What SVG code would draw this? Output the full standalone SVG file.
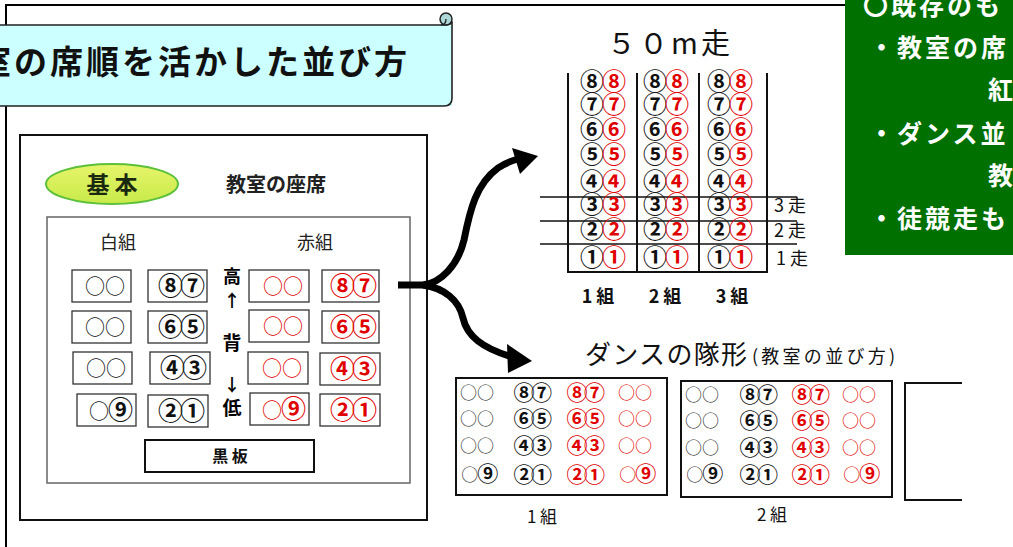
<svg xmlns="http://www.w3.org/2000/svg" width="1013" height="547" viewBox="0 0 1013 547">
<defs>
<style>
text{font-family:"Noto Sans CJK JP","Liberation Sans",sans-serif;}
.b{font-weight:bold;}
.red{fill:#e00000;}
.blk{fill:#111;}
.seat{fill:#fff;stroke:#333;stroke-width:1.3;}
.st{font-size:20px;text-anchor:middle;}
.num{font-size:25px;text-anchor:middle;font-weight:bold;letter-spacing:-3px;}
.rn{font-size:24px;font-weight:bold;letter-spacing:-2px;}
.dn{font-size:17px;text-anchor:middle;}
.dc{font-size:21px;font-weight:bold;letter-spacing:-3.5px;}
.grid{stroke:#111;stroke-width:2;fill:none;}
.conn{stroke:#000;stroke-width:7;fill:none;stroke-linecap:butt;}
.gt{fill:#fff;font-size:25px;font-weight:bold;letter-spacing:3px;}
</style>
<linearGradient id="ell" x1="0" y1="0" x2="0" y2="1">
<stop offset="0" stop-color="#e6f56a"/>
<stop offset="1" stop-color="#c8ea4a"/>
</linearGradient>
</defs>
<rect x="0" y="0" width="1013" height="547" fill="#fff"/>

<!-- outer frame -->
<g id="frame">
<path d="M6,547 L6,5 L846,5" fill="none" stroke="#000" stroke-width="2"/>
</g>

<!-- title banner -->
<g id="title">
<rect x="-2" y="25" width="454" height="81" fill="#ccffff" stroke="none"/>
<path d="M-2,25 L446,25 M452,22 L452,98 Q452,106 444,106 L-2,106" fill="none" stroke="#222" stroke-width="1.6"/>
<circle cx="446" cy="19" r="6" fill="#aed8d8" stroke="#222" stroke-width="1.5"/>
<path d="M446,25 Q452,25 452,21 M446,19 Q446,25 441,25" fill="none" stroke="#222" stroke-width="1.3"/>
<text x="-22" y="74" class="b" font-size="33" letter-spacing="3" fill="#111">室の席順を活かした並び方</text>
</g>

<!-- classroom seat node -->
<g id="classroom">
<rect x="20" y="135" width="407" height="385" fill="#fff" stroke="#111" stroke-width="2"/>
<ellipse cx="112" cy="184" rx="66" ry="20" fill="url(#ell)" stroke="#5cc03a" stroke-width="2"/>
<text x="112" y="193" class="b" font-size="23" text-anchor="middle" fill="#1a2a10">基 本</text>
<text x="276" y="192" class="b" font-size="20" text-anchor="middle" fill="#222">教室の座席</text>
<rect x="47" y="217" width="363" height="266" fill="none" stroke="#666" stroke-width="1.5"/>
<text x="118" y="249" font-size="18" text-anchor="middle" fill="#222">白組</text>
<text x="315" y="249" font-size="18" text-anchor="middle" fill="#222">赤組</text>

<rect class="seat" x="72" y="270" width="59" height="32"/>
<rect class="seat" x="148" y="270" width="59" height="32"/>
<rect class="seat" x="249" y="270" width="60" height="32"/>
<rect class="seat" x="322" y="270" width="57" height="32"/>
<rect class="seat" x="72" y="311" width="59" height="32"/>
<rect class="seat" x="148" y="311" width="59" height="32"/>
<rect class="seat" x="249" y="310" width="60" height="32"/>
<rect class="seat" x="322" y="311" width="57" height="32"/>
<rect class="seat" x="73" y="352" width="59" height="32"/>
<rect class="seat" x="150" y="352" width="60" height="32"/>
<rect class="seat" x="248" y="352" width="60" height="32"/>
<rect class="seat" x="320" y="353" width="60" height="32"/>
<rect class="seat" x="77" y="394" width="59" height="32"/>
<rect class="seat" x="148" y="395" width="60" height="32"/>
<rect class="seat" x="250" y="393" width="59" height="32"/>
<rect class="seat" x="320" y="394" width="60" height="32"/>

<text class="st blk" x="105" y="294">○○</text>
<text class="num blk" x="180" y="295">⑧⑦</text>
<text class="st red" x="283" y="294">○○</text>
<text class="num red" x="352" y="295">⑧⑦</text>
<text class="st blk" x="105" y="335">○○</text>
<text class="num blk" x="180" y="336">⑥⑤</text>
<text class="st red" x="283" y="334">○○</text>
<text class="num red" x="352" y="336">⑥⑤</text>
<text class="st blk" x="106" y="376">○○</text>
<text class="num blk" x="182" y="377">④③</text>
<text class="st red" x="282" y="376">○○</text>
<text class="num red" x="352" y="378">④③</text>
<text class="blk" x="89" y="419" font-size="20">○<tspan font-size="25" font-weight="bold" dx="-1">⑨</tspan></text>
<text class="num blk" x="180" y="420">②①</text>
<text class="red" x="262" y="418" font-size="20">○<tspan font-size="25" font-weight="bold" dx="-1">⑨</tspan></text>
<text class="num red" x="352" y="419">②①</text>

<text x="232" y="283" class="b" font-size="18" text-anchor="middle" fill="#000">高</text>
<text x="232" y="307" class="b" font-size="17" text-anchor="middle" fill="#000">↑</text>
<text x="232" y="350" class="b" font-size="19" text-anchor="middle" fill="#000">背</text>
<text x="232" y="391" class="b" font-size="17" text-anchor="middle" fill="#000">↓</text>
<text x="232" y="415" class="b" font-size="19" text-anchor="middle" fill="#000">低</text>

<rect x="145" y="440" width="169" height="32" fill="#fff" stroke="#111" stroke-width="2"/>
<text x="230" y="462" class="b" font-size="16" text-anchor="middle" fill="#111">黒 板</text>
</g>

<!-- connectors -->
<g id="connectors">
<path class="conn" d="M398,285 L423,285 C441,283 458,265 464,240 C470,210 476,184 498,168 C505,163 511,161 518,159"/>
<polygon points="538,156 512,148 520,174" fill="#000"/>
<path class="conn" d="M423,285 C444,288 459,300 463,318 C467,336 482,348 512,357"/>
<polygon points="532,361 507,344 508,373" fill="#000"/>
</g>

<!-- 50m run node -->
<g id="run50">
<text x="607" y="54" font-size="29" textLength="123" fill="#111">５０m走</text>
<path class="grid" d="M568,73 L568,272 L767,272 L767,73 M637,73 L637,272 M699,73 L699,272"/>
<path stroke="#111" stroke-width="1.5" d="M540,197 L797,197 M540,221 L797,221 M540,244 L797,244"/>
<g class="rn blk">
<text x="580" y="90">⑧<tspan class="red">⑧</tspan></text>
<text x="643" y="90">⑧<tspan class="red">⑧</tspan></text>
<text x="707" y="90">⑧<tspan class="red">⑧</tspan></text>
<text x="580" y="113">⑦<tspan class="red">⑦</tspan></text>
<text x="643" y="113">⑦<tspan class="red">⑦</tspan></text>
<text x="707" y="113">⑦<tspan class="red">⑦</tspan></text>
<text x="580" y="138">⑥<tspan class="red">⑥</tspan></text>
<text x="643" y="138">⑥<tspan class="red">⑥</tspan></text>
<text x="707" y="138">⑥<tspan class="red">⑥</tspan></text>
<text x="580" y="163">⑤<tspan class="red">⑤</tspan></text>
<text x="643" y="163">⑤<tspan class="red">⑤</tspan></text>
<text x="707" y="163">⑤<tspan class="red">⑤</tspan></text>
<text x="580" y="190">④<tspan class="red">④</tspan></text>
<text x="643" y="190">④<tspan class="red">④</tspan></text>
<text x="707" y="190">④<tspan class="red">④</tspan></text>
<text x="580" y="213">③<tspan class="red">③</tspan></text>
<text x="643" y="213">③<tspan class="red">③</tspan></text>
<text x="707" y="213">③<tspan class="red">③</tspan></text>
<text x="580" y="238">②<tspan class="red">②</tspan></text>
<text x="643" y="238">②<tspan class="red">②</tspan></text>
<text x="707" y="238">②<tspan class="red">②</tspan></text>
<text x="580" y="266">①<tspan class="red">①</tspan></text>
<text x="643" y="266">①<tspan class="red">①</tspan></text>
<text x="707" y="266">①<tspan class="red">①</tspan></text>
</g>
<g font-size="18" fill="#111">
<text x="774" y="212">3 走</text>
<text x="774" y="237">2 走</text>
<text x="776" y="265">1 走</text>
<text x="598" y="303" text-anchor="middle" font-weight="bold">1 組</text>
<text x="665" y="303" text-anchor="middle" font-weight="bold">2 組</text>
<text x="732" y="303" text-anchor="middle" font-weight="bold">3 組</text>
</g>
</g>

<!-- dance formation node -->
<g id="dance">
<text x="585" y="364" font-size="26" fill="#111" textLength="162">ダンスの隊形</text>
<text x="752" y="363" font-size="18" fill="#111" textLength="143">(教室の並び方)</text>
<rect x="456" y="378" width="211" height="117" fill="none" stroke="#111" stroke-width="2"/>
<rect x="681" y="381" width="211" height="116" fill="none" stroke="#111" stroke-width="2"/>
<path d="M962,383 L905,383 L905,500 L962,500" fill="none" stroke="#111" stroke-width="2"/>
<g class="dn">
<text x="477" y="399" fill="#333">○○</text><text x="531" y="400" class="dc blk">⑧⑦</text><text x="584" y="400" class="dc red">⑧⑦</text><text x="635" y="399" class="red">○○</text>
<text x="477" y="425" fill="#333">○○</text><text x="531" y="426" class="dc blk">⑥⑤</text><text x="584" y="426" class="dc red">⑥⑤</text><text x="635" y="425" class="red">○○</text>
<text x="477" y="452" fill="#333">○○</text><text x="531" y="453" class="dc blk">④③</text><text x="584" y="453" class="dc red">④③</text><text x="635" y="452" class="red">○○</text>
<text x="478" y="481" fill="#333">○<tspan class="dc blk" dx="-1">⑨</tspan></text><text x="531" y="482" class="dc blk">②①</text><text x="584" y="482" class="dc red">②①</text><text x="636" y="481" class="red">○<tspan class="dc" dx="-1">⑨</tspan></text>
<text x="702" y="401" fill="#333">○○</text><text x="757" y="402" class="dc blk">⑧⑦</text><text x="809" y="402" class="dc red">⑧⑦</text><text x="859" y="401" class="red">○○</text>
<text x="702" y="427" fill="#333">○○</text><text x="757" y="428" class="dc blk">⑥⑤</text><text x="809" y="428" class="dc red">⑥⑤</text><text x="859" y="427" class="red">○○</text>
<text x="702" y="454" fill="#333">○○</text><text x="757" y="455" class="dc blk">④③</text><text x="809" y="455" class="dc red">④③</text><text x="859" y="454" class="red">○○</text>
<text x="703" y="481" fill="#333">○<tspan class="dc blk" dx="-1">⑨</tspan></text><text x="757" y="482" class="dc blk">②①</text><text x="809" y="482" class="dc red">②①</text><text x="860" y="481" class="red">○<tspan class="dc" dx="-1">⑨</tspan></text>
</g>
<text x="542" y="523" font-size="17" text-anchor="middle" fill="#111">1 組</text>
<text x="772" y="521" font-size="17" text-anchor="middle" fill="#111">2 組</text>
</g>

<!-- green note -->
<g id="note">
<rect x="845" y="0" width="170" height="255" fill="#007000"/>
<text class="gt" x="863" y="15">〇既存のも</text>
<text class="gt" x="869" y="57">・教室の席</text>
<text class="gt" x="988" y="99">紅</text>
<text class="gt" x="869" y="143">・ダンス並</text>
<text class="gt" x="988" y="185">教</text>
<text class="gt" x="869" y="228">・徒競走も</text>
</g>
</svg>
